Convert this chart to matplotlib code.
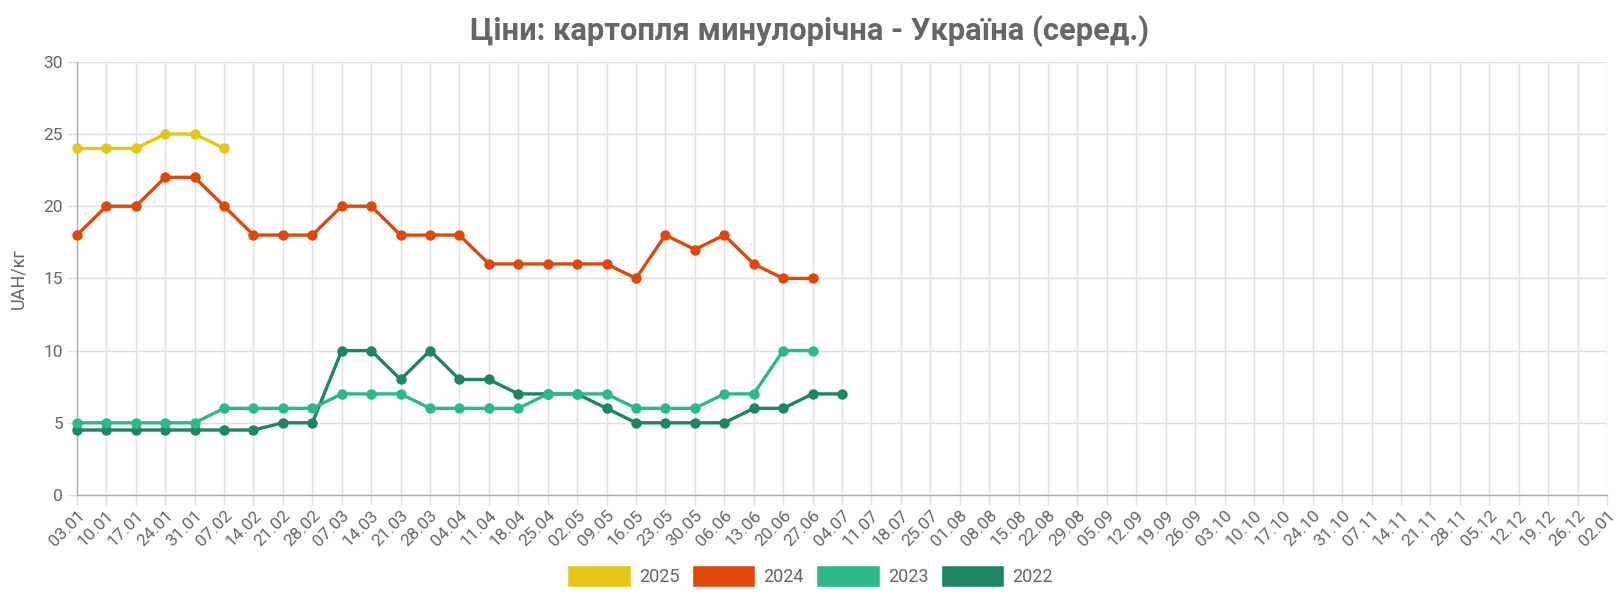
import matplotlib
matplotlib.use("Agg")
import matplotlib.pyplot as plt
from matplotlib.patches import Patch

plt.rcParams['font.family'] = ['Roboto', 'DejaVu Sans']

dates = ["03.01", "10.01", "17.01", "24.01", "31.01", "07.02", "14.02", "21.02", "28.02",
         "07.03", "14.03", "21.03", "28.03", "04.04", "11.04", "18.04", "25.04", "02.05",
         "09.05", "16.05", "23.05", "30.05", "06.06", "13.06", "20.06", "27.06", "04.07",
         "11.07", "18.07", "25.07", "01.08", "08.08", "15.08", "22.08", "29.08", "05.09",
         "12.09", "19.09", "26.09", "03.10", "10.10", "17.10", "24.10", "31.10", "07.11",
         "14.11", "21.11", "28.11", "05.12", "12.12", "19.12", "26.12", "02.01"]

y2025 = [24, 24, 24, 25, 25, 24]
y2024 = [18, 20, 20, 22, 22, 20, 18, 18, 18, 20, 20, 18, 18, 18, 16, 16, 16, 16, 16, 15,
         18, 17, 18, 16, 15, 15]
y2023 = [5, 5, 5, 5, 5, 6, 6, 6, 6, 7, 7, 7, 6, 6, 6, 6, 7, 7, 7, 6, 6, 6, 7, 7, 10, 10]
y2022 = [4.5, 4.5, 4.5, 4.5, 4.5, 4.5, 4.5, 5, 5, 10, 10, 8, 10, 8, 8, 7, 7, 7, 6, 5, 5, 5,
         5, 6, 6, 7, 7]

series = [("2025", y2025, "#E5C617"),
          ("2024", y2024, "#E04809"),
          ("2023", y2023, "#2BB98A"),
          ("2022", y2022, "#1B8660")]

title = "Ціни: картопля минулорічна - Україна (серед.)"
ylabel = "UAH/кг"
yticks = [0, 5, 10, 15, 20, 25, 30]

fig = plt.figure(figsize=(16.2, 6), dpi=100)
ax = fig.add_axes([0.0475, 0.175, 0.9445, 0.722])

# establish categorical axis with all dates
ax.plot(dates, [None] * len(dates), alpha=0)

for name, vals, col in reversed(series):
    ax.plot(dates[:len(vals)], vals, color=col, lw=2.4, marker='o', ms=7.5,
            markeredgewidth=0, solid_joinstyle='round', zorder=3, clip_on=False)

ax.set_xlim(0, len(dates) - 1)
ax.set_ylim(0, 30)
ax.set_yticks(yticks)
ax.grid(True, color='#e0e0e0', lw=1)
ax.set_axisbelow(True)
for s in ['top', 'right']:
    ax.spines[s].set_visible(False)
for s in ['left', 'bottom']:
    ax.spines[s].set_color('#aaaaaa')
    ax.spines[s].set_linewidth(1)

ax.tick_params(axis='both', colors='#e0e0e0', labelcolor='#666666', length=7, width=1,
               labelsize=12.5)
ax.tick_params(axis='x', pad=2)
ax.tick_params(axis='y', pad=3)
for lab in ax.get_xticklabels():
    lab.set_rotation(45)
    lab.set_ha('right')
    lab.set_rotation_mode('anchor')

ax.set_ylabel(ylabel, color='#666666', fontsize=13, labelpad=12)
fig.text(0.5, 0.948, title, ha='center', va='center', fontsize=22.2,
         fontweight='bold', color='#666666')

handles = [Patch(facecolor=c, edgecolor='white', label=n) for n, _, c in series]
fig.legend(handles=handles, loc='center', bbox_to_anchor=(0.5, 0.04), ncol=4,
           frameon=False, fontsize=13, handlelength=3.5, handleheight=1.5,
           handletextpad=0.45, columnspacing=0.7, labelcolor='#666666')

fig.savefig("out.png", dpi=100)
